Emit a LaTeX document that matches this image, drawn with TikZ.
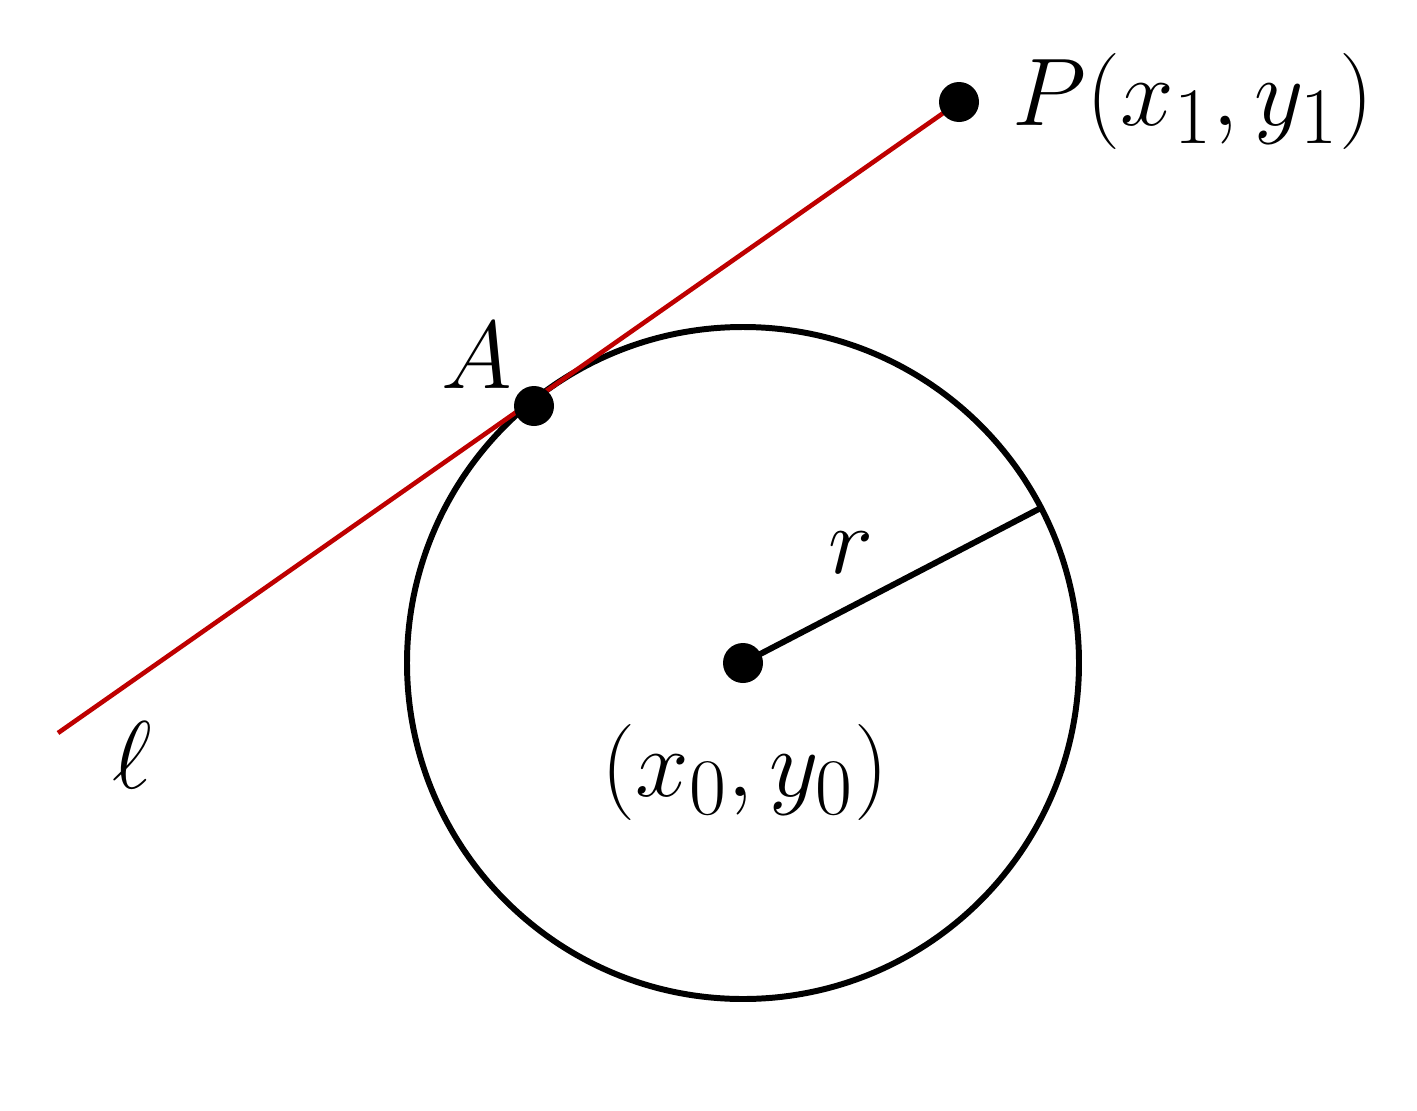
\documentclass[tikz,border=0pt]{standalone}
\usepackage{amsmath}
\usepackage{amssymb}
\usepackage{tikz}
\usetikzlibrary{calc}
\definecolor{rojo}{RGB}{190,0,0}

\begin{document}
\begin{tikzpicture}[scale=1,
    etiqueta/.style={inner sep=0pt, font=\Huge, scale=1.1}]
  \useasboundingbox (0,0) rectangle (14.17,11.10);

  % Puntos
  \coordinate (O) at (7.43,4.47);
  \coordinate (A) at (5.34,7.04);
  \coordinate (P) at (9.59,10.08);
  \coordinate (L) at (0.58,3.77);
  \coordinate (R) at ($(O)+(27.5:3.36)$);

  % Circunferencia y radio
  \draw[line width=1.7pt] (O) circle (3.36);
  \draw[line width=1.7pt] (O) -- (R);

  % Recta l
  \draw[rojo, line width=1.3pt] (L) -- (P);

  \foreach \p in {A,O,P}
    \fill (\p) circle (0.2);

  % Etiquetas
  \node[etiqueta, anchor=west] (etP) at (10.12,10.09) {$P(x_1,y_1)$};
  \node[etiqueta] (etA) at (4.77,7.54) {$A$};
  \node[etiqueta] (etl) at (1.32,3.55) {$\ell$};
  \node[etiqueta] (etr) at (8.51,5.57) {$r$};
  \node[etiqueta] (etO) at (7.45,3.38) {$(x_0,y_0)$};
\end{tikzpicture}
\end{document}
